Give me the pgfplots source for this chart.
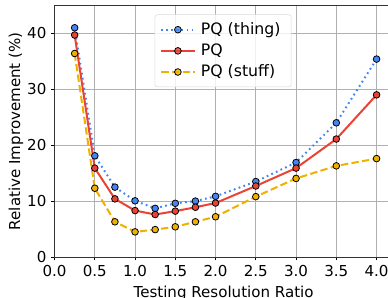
\documentclass[border=0pt]{standalone}
\usepackage{pgfplots}
\pgfplotsset{compat=1.18}
\usepackage{fontspec}
\setmainfont{DejaVu Sans}
\definecolor{cblue}{RGB}{66,133,244}
\definecolor{cred}{RGB}{234,67,53}
\definecolor{corange}{RGB}{240,176,0}
\definecolor{gridgray}{RGB}{176,176,176}
\begin{document}
\begin{tikzpicture}
\useasboundingbox (0,0) rectangle (291pt,222.75pt);
\clip (0,0) rectangle (291pt,222.75pt);
\begin{axis}[
  at={(40.9pt,30pt)}, anchor=south west,
  scale only axis, width=253.6pt, height=188.7pt,
  xmin=0, xmax=4.2, ymin=0, ymax=45,
  xtick={0,0.5,1,1.5,2,2.5,3,3.5,4},
  ytick={0,10,20,30,40},
  xticklabel style={/pgf/number format/.cd,fixed,fixed zerofill,precision=1},
  /pgf/number format/assume math mode=true,
  tick label style={font=\fontsize{11.3}{13}\selectfont},
  label style={font=\fontsize{11.3}{13}\selectfont},
  xlabel={Testing Resolution Ratio},
  ylabel={Relative Improvement (\%)},
  ylabel shift=-4pt,
  tick align=outside, xtick pos=bottom, ytick pos=left,
  major tick length=2.6pt,
  every tick/.style={black, line width=0.6pt},
  axis line style={black!80, line width=0.75pt},
  grid=major,
  major grid style={gridgray, line width=0.6pt},
  legend cell align=left,
  legend style={at={(0.296,0.964)}, anchor=north west,
    draw=black!15, rounded corners=2pt, fill=white, fill opacity=0.8, text opacity=1,
    font=\fontsize{11.8}{13}\selectfont, row sep=3.5pt, inner xsep=4pt, inner ysep=5pt,
    nodes={inner xsep=4pt, inner ysep=1pt}},
  legend image code/.code={\draw[mark repeat=2,mark phase=2,#1] plot coordinates {(0pt,0pt) (12.5pt,0pt) (25pt,0pt)};},
]
\addplot[cblue, line width=1.5pt, dash pattern=on 1.3pt off 2.5pt, mark=*, mark size=2.5pt,
  mark options={solid, fill=cblue, draw=black, line width=0.6pt}] coordinates {
  (0.25,41.0) (0.5,18.1) (0.75,12.5) (1.0,10.05) (1.25,8.7) (1.5,9.6) (1.75,10.0) (2.0,10.85) (2.5,13.5) (3.0,16.9) (3.5,24.0) (4.0,35.4)};
\addlegendentry{PQ (thing)}
\addplot[cred, line width=1.5pt, mark=*, mark size=2.5pt,
  mark options={solid, fill=cred, draw=black, line width=0.6pt}] coordinates {
  (0.25,39.7) (0.5,15.9) (0.75,10.4) (1.0,8.3) (1.25,7.6) (1.5,8.2) (1.75,8.9) (2.0,9.65) (2.5,12.7) (3.0,15.9) (3.5,21.1) (4.0,29.0)};
\addlegendentry{PQ}
\addplot[corange, line width=1.5pt, dash pattern=on 5.5pt off 2.5pt, mark=*, mark size=2.5pt,
  mark options={solid, fill=corange, draw=black, line width=0.6pt}] coordinates {
  (0.25,36.4) (0.5,12.3) (0.75,6.3) (1.0,4.5) (1.25,4.9) (1.5,5.4) (1.75,6.3) (2.0,7.2) (2.5,10.8) (3.0,14.05) (3.5,16.3) (4.0,17.6)};
\addlegendentry{PQ (stuff)}
\end{axis}
\end{tikzpicture}
\end{document}
